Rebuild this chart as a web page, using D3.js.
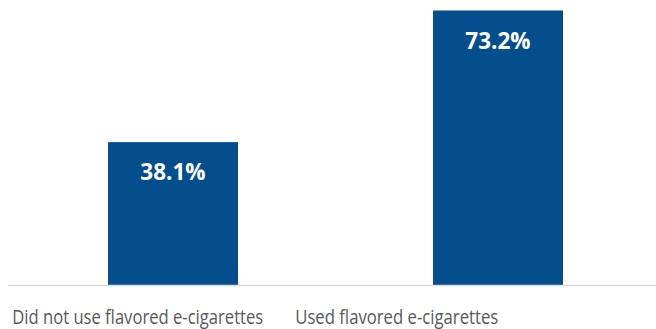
<!DOCTYPE html>
<html>
<head>
<meta charset="utf-8">
<script src="https://cdn.jsdelivr.net/npm/d3@7"></script>
<style>
  html, body { margin: 0; padding: 0; background: #fff; }
  svg { display: block; }
</style>
</head>
<body>
<svg id="chart" width="656" height="329"></svg>
<script>
const categories = ["Did not use flavored e-cigarettes", "Used flavored e-cigarettes"];
const values = [38.1, 73.2];
const valueLabels = ["38.1%", "73.2%"];

const svg = d3.select("#chart");

const x = d3.scaleBand().domain(categories).range([10.5, 660.5]).paddingInner(0.6).paddingOuter(0.3);
const y = d3.scaleLinear().domain([0, 76]).range([285, 0]);

const barColor = "#044e8e";

svg.selectAll("rect.bar").data(categories).enter().append("rect")
  .attr("class", "bar")
  .attr("x", d => x(d))
  .attr("width", x.bandwidth())
  .attr("y", (d, i) => y(values[i]))
  .attr("height", (d, i) => y(0) - y(values[i]))
  .attr("fill", barColor);

// baseline axis
svg.append("line")
  .attr("x1", 8).attr("x2", 656)
  .attr("y1", y(0) + 0.5).attr("y2", y(0) + 0.5)
  .attr("stroke", "#d9d9d9").attr("stroke-width", 1.5);

// value labels
svg.selectAll("text.val").data(categories).enter().append("text")
  .attr("class", "val")
  .attr("x", d => x(d) + x.bandwidth() / 2)
  .attr("y", (d, i) => y(values[i]) + 38)
  .attr("text-anchor", "middle")
  .attr("font-family", "'Open Sans', Lato, sans-serif")
  .attr("font-weight", "bold")
  .attr("font-size", 22.5)
  .attr("fill", "#fff")
  .text((d, i) => valueLabels[i]);

// category labels (offset left of bar centers as in original)
const labelOffsets = [-35.25, -101.25];
const labelWidths = [251, 203];
svg.selectAll("text.cat").data(categories).enter().append("text")
  .attr("class", "cat")
  .attr("x", (d, i) => x(d) + x.bandwidth() / 2 + labelOffsets[i])
  .attr("y", 324)
  .attr("text-anchor", "middle")
  .attr("font-family", "'Open Sans', Lato, sans-serif")
  .attr("font-size", 19.5)
  .attr("fill", "#595959")
  .attr("textLength", (d, i) => labelWidths[i])
  .attr("lengthAdjust", "spacingAndGlyphs")
  .text(d => d);
</script>
</body>
</html>
